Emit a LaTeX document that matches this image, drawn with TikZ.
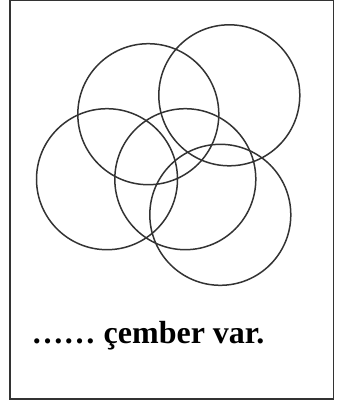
\documentclass[tikz,border=0pt]{standalone}
\usepackage{fontspec}
\setmainfont{Liberation Serif}
\begin{document}
\begin{tikzpicture}[x=1pt,y=-1pt,
  ring/.style={circle,draw=black!80,line width=1.5pt,inner sep=0pt,outer sep=0pt,minimum size=141pt},
  frame/.style={draw=black!80,line width=1.3pt},
  label/.style={anchor=base west,inner sep=0pt,font=\fontsize{32}{36}\selectfont\bfseries}]
\useasboundingbox (0,0) rectangle (347,405);
\draw[frame] (10,0.7) rectangle (333.3,399);
\node[ring] (ca) at (148.3,114.2) {};
\node[ring] (cb) at (229.3,95.3) {};
\node[ring] (cc) at (107,179.2) {};
\node[ring] (cd) at (185.3,179.2) {};
\node[ring] (ce) at (220.3,214.8) {};
\node[label] (t) at (31.5,343.3) {…… çember var.};
\end{tikzpicture}
\end{document}
